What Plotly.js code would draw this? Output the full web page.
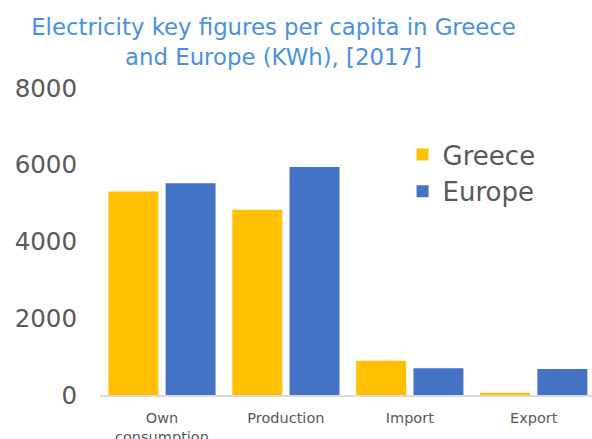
<!DOCTYPE html>
<html>
<head>
<meta charset="utf-8">
<script src="https://cdn.plot.ly/plotly-3.0.1.min.js"></script>
<style>html,body{margin:0;padding:0;background:#fff;overflow:hidden;}#chart{width:592px;height:439px;}</style>
</head>
<body>
<div id="chart"></div>
<script>
var categories = ["Own<br>consumption", "Production", "Import", "Export"];
var greece = [5300, 4830, 890, 60];
var europe = [5520, 5940, 700, 680];
var yTicks = [0, 2000, 4000, 6000, 8000];
var yTickLabels = ["0", "2000", "4000", "6000", "8000"];

var font = "DejaVu Sans, Verdana, sans-serif";
var data = [
  {type: "bar", name: "Greece", x: categories, y: greece, marker: {color: "#ffc000"}},
  {type: "bar", name: "Europe", x: categories, y: europe, marker: {color: "#4472c4"}}
];
var layout = {
  width: 592, height: 439,
  margin: {l: 100, r: 0, t: 88, b: 44},
  paper_bgcolor: "#fff", plot_bgcolor: "#fff",
  font: {family: font, color: "#595959"},
  title: {
    text: "Electricity key figures per capita in Greece<br>and Europe (KWh), [2017]",
    font: {family: font, size: 22.8, color: "#4a90e2"},
    x: 0.462, xref: "container", xanchor: "center",
    y: 0.92, yref: "container", yanchor: "top"
  },
  barmode: "group",
  bargap: 0.076,
  bargroupgap: 0.127,
  showlegend: true,
  legend: {
    x: 0.615, y: 0.86, xanchor: "left", yanchor: "top",
    font: {family: font, size: 26, color: "#595959"},
    bgcolor: "rgba(0,0,0,0)", tracegroupgap: 8
  },
  xaxis: {
    range: [-0.5, 3.47],
    showgrid: false, zeroline: false,
    showline: true, linecolor: "#d9d9d9", linewidth: 2,
    ticks: "", ticklabelstandoff: 9,
    tickfont: {family: font, size: 14.5, color: "#595959"}
  },
  yaxis: {
    range: [0, 8000], tickmode: "array", tickvals: yTicks, ticktext: yTickLabels,
    showgrid: false, zeroline: false, showline: false,
    ticks: "", ticklabelstandoff: 22,
    tickfont: {family: font, size: 24.5, color: "#595959"}
  }
};
Plotly.newPlot("chart", data, layout, {displayModeBar: false, staticPlot: true});
</script>
</body>
</html>
